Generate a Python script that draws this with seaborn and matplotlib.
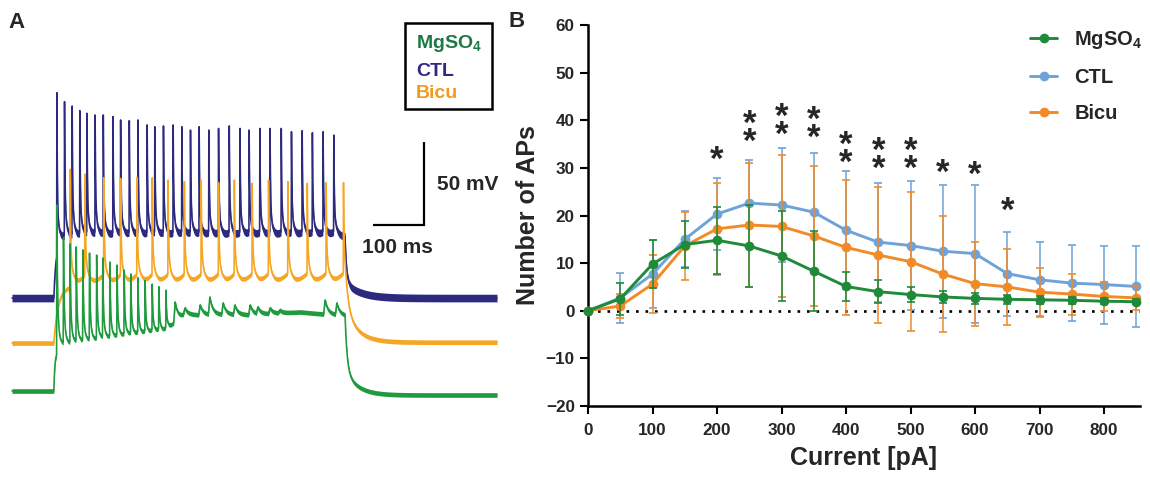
import numpy as np
import pandas as pd
import matplotlib
matplotlib.use("Agg")
import matplotlib.pyplot as plt
import matplotlib.transforms as mtransforms
from matplotlib.lines import Line2D
from matplotlib.patches import Rectangle
import seaborn as sns

sns.set_theme(style="white")
plt.rcParams["font.family"] = ["Liberation Sans", "DejaVu Sans"]
plt.rcParams["font.weight"] = "bold"
plt.rcParams["mathtext.fontset"] = "custom"
plt.rcParams["mathtext.rm"] = "Liberation Sans:bold"
plt.rcParams["mathtext.it"] = "Liberation Sans:bold"
plt.rcParams["mathtext.bf"] = "Liberation Sans:bold"

# ---------------- Panel B: number of APs per current step (mean, SD) ----------------
current_pa = [0, 50, 100, 150, 200, 250, 300, 350, 400, 450, 500, 550, 600, 650, 700, 750, 800, 850]
ctl_mean = [0, 2.7, 7.7, 15.0, 20.3, 22.6, 22.2, 20.7, 16.9, 14.4, 13.7, 12.5, 12.0, 7.8, 6.5, 5.8, 5.5, 5.1]
ctl_sd = [0, 5.2, 7.2, 5.9, 7.5, 9.1, 11.9, 12.5, 12.4, 12.5, 13.5, 14.0, 14.5, 8.8, 7.9, 8.0, 8.2, 8.6]
bicu_mean = [0, 1.0, 5.6, 13.6, 17.2, 18.0, 17.7, 15.7, 13.3, 11.7, 10.3, 7.7, 5.7, 5.0, 3.9, 3.5, 3.0, 2.7]
bicu_sd = [0, 2.5, 6.1, 7.2, 9.7, 13.0, 14.9, 14.6, 14.1, 14.2, 14.6, 12.1, 8.8, 8.0, 5.0, 4.3, 3.0, 2.6]
mg_mean = [0, 2.5, 9.8, 13.9, 14.8, 13.6, 11.5, 8.3, 5.1, 4.0, 3.4, 2.9, 2.6, 2.4, 2.3, 2.2, 2.0, 1.9]
mg_sd = [0, 3.3, 5.1, 4.9, 7.0, 8.6, 9.4, 8.4, 3.1, 2.4, 1.6, 1.3, 1.1, 0.9, 0.8, 0.7, 0.6, 0.5]

# significance marks: current step, level of the lowest star, label
sig_current = [200, 250, 300, 350, 400, 450, 500, 550, 600, 650]
sig_level = [33.6, 37.5, 38.9, 38.2, 33.0, 31.7, 31.7, 30.9, 30.5, 23.0]
sig_label = ["*", "**", "**", "**", "**", "**", "**", "*", "*", "*"]

series_names = ["MgSO$_\\mathbf{4}$", "CTL", "Bicu"]

# ---------------- Panel A: example voltage traces ----------------
# CTL
ctl_spike_ms = [88, 103, 118, 133, 147, 163, 179, 198, 213, 230, 247, 265, 280, 297, 316, 333,
                350, 367, 386, 405, 426, 447, 465, 486, 506, 528, 548, 569, 589, 610, 631]
ctl_peak_mv = [53.7, 48.3, 45.7, 42.9, 41.3, 40.3, 40.3, 39.3, 37.3, 36.9, 37.3, 34.3, 33.2, 33.7,
               34.3, 33.2, 31.2, 33.2, 31.2, 32.2, 33.7, 32.2, 31.2, 32.2, 32.2, 32.2, 30.2, 30.8,
               29.6, 30.2, 28.2]
ctl_plateau_ms = [82, 150, 653]
ctl_plateau_mv = [-37.0, -34.0, -33.0]
# Bicu
bicu_spike_ms = [114, 143, 180, 213, 245, 275, 306, 338, 371, 405, 436, 471, 503, 541, 579, 616, 650]
bicu_peak_mv = [34.7, 31.8, 29.6, 29.2, 29.8, 29.6, 28.2, 27.2, 28.2, 26.6, 28.2, 26.2, 28.2, 27.2,
                26.2, 26.6, 26.6]
bicu_plateau_ms = [82, 150, 653]
bicu_plateau_mv = [-37.0, -34.5, -33.5]
# MgSO4
mg_spike_ms = [88, 101, 114, 126, 139, 152, 166, 178, 192, 206, 220, 233, 247, 261, 275, 288, 302]
mg_peak_mv = [42.1, 22.2, 18.6, 16.8, 15.0, 13.1, 11.9, 10.1, 7.7, 5.9, 2.9, 0.5, -1.9, -3.7,
              -6.1, -7.9, -10.3]
mg_plateau_ms = [82, 88, 133, 212, 300, 320, 339, 467, 565, 653]
mg_plateau_mv = [-47.0, -46.5, -43.5, -39.3, -35.0, -28.4, -24.2, -24.2, -22.4, -24.8]
mg_bump_ms = [320, 339, 369, 388, 414, 437, 467, 482, 506, 525, 614, 637]
mg_bump_mv = [-16.4, -20.0, -18.2, -13.4, -17.0, -18.2, -18.2, -19.4, -20.0, -21.2, -15.2, -17.0]

REST_MV = -70.0
STIM_ON, STIM_OFF = 82.0, 653.0

C_CTL_TRACE = "#2b2a7e"
C_BICU_TRACE = "#f5a623"
C_MG_TRACE = "#1f9a3e"
C_MG = "#1e8a3a"
C_CTL = "#6fa3d8"
C_BICU = "#f28a28"


def add_events(v, t, times, peaks, rise, tau_fast, tau_slow, w_fast):
    for ts, pk in zip(times, peaks):
        i = np.searchsorted(t, ts)
        amp = pk - v[i]
        dt = t - ts
        k = np.zeros_like(t)
        up = (dt >= -rise) & (dt < 0)
        k[up] = (dt[up] + rise) / rise
        dn = dt >= 0
        k[dn] = w_fast * np.exp(-dt[dn] / tau_fast) + (1 - w_fast) * np.exp(-dt[dn] / tau_slow)
        v += amp * k


def membrane_trace(t, rest_post, plat_t, plat_v, tau_on, spikes_t, spikes_v, ramp, shape,
                   tau_off, w_off, extra=None):
    v = np.full(t.shape, REST_MV)
    on = (t >= STIM_ON) & (t < STIM_OFF)
    plat = np.interp(t, plat_t, plat_v)
    v[on] = REST_MV + (plat[on] - REST_MV) * (1 - np.exp(-(t[on] - STIM_ON) / tau_on))
    st = np.asarray(spikes_t, float)
    for a, b in zip(st[:-1], st[1:]):
        m = (t >= a) & (t < b)
        v[m] += ramp * ((t[m] - a) / (b - a)) ** 2
    add_events(v, t, spikes_t, spikes_v, *shape)
    if extra is not None:
        add_events(v, t, *extra)
    off = t >= STIM_OFF
    v_end = v[~off][-1]
    dt = t[off] - STIM_OFF
    decay = w_off * np.exp(-dt / tau_off[0]) + (1 - w_off) * np.exp(-dt / tau_off[1])
    v[off] = rest_post + (v_end - rest_post) * decay
    return v


t_ms = np.arange(0.0, 951.0, 0.05)
v_ctl = membrane_trace(t_ms, -70.0, ctl_plateau_ms, ctl_plateau_mv, 4.0, ctl_spike_ms, ctl_peak_mv,
                       3.0, (0.5, 1.0, 5.0, 0.75), (3.0, 30.0), 0.75)
v_bicu = membrane_trace(t_ms, -69.5, bicu_plateau_ms, bicu_plateau_mv, 8.0, bicu_spike_ms, bicu_peak_mv,
                        6.0, (0.5, 1.0, 6.0, 0.7), (6.0, 25.0), 0.6)
v_mg = membrane_trace(t_ms, -72.4, mg_plateau_ms, mg_plateau_mv, 2.0, mg_spike_ms, mg_peak_mv,
                      3.0, (0.6, 1.2, 5.0, 0.7), (4.0, 25.0), 0.7,
                      extra=(mg_bump_ms, mg_bump_mv, 3.0, 4.0, 10.0, 0.6))

# vertical stacking of the three example cells
traces = [(v_ctl, 179.6, C_CTL_TRACE, 2.3), (v_bicu, 152.5, C_BICU_TRACE, 1.4), (v_mg, 123.6, C_MG_TRACE, 1.4)]

W, H = 1150, 480
fig = plt.figure(figsize=(W / 100, H / 100), dpi=100)

axA = fig.add_axes([0, 0, 500 / W, 1])
axA.set_xlim(-12 / 0.51, 488 / 0.51)
axA.set_ylim(0, 480 / 1.66)
axA.axis("off")
for v, off, col, half in traces:
    y = v + off
    axA.fill_between(t_ms, y - half, y + half, color=col, lw=0)
    sns.lineplot(x=t_ms, y=y, ax=axA, color=col, lw=1.15, estimator=None, sort=False)

# scale bar: 100 ms, 50 mV
sb_x, sb_y = 808.0, 153.6
axA.plot([sb_x - 100, sb_x, sb_x], [sb_y, sb_y, sb_y + 50], color="black", lw=1.6,
         solid_joinstyle="miter", solid_capstyle="butt")
axA.text(834, 174.7, "50 mV", fontsize=15, fontweight="bold", ha="left", va="baseline")
axA.text(755, 136.7, "100 ms", fontsize=15, fontweight="bold", ha="center", va="baseline")

# boxed colour key
axA.add_patch(Rectangle((770.6, 223.5), 170.6, 51.8, fill=False, ec="black", lw=1.8))
axA.text(792, 260.1, "MgSO$_\\mathbf{4}$", color="#1a7a45", fontsize=14, fontweight="bold", va="baseline")
axA.text(792, 243.4, "CTL", color="#2e2a80", fontsize=14, fontweight="bold", va="baseline")
axA.text(792, 230.1, "Bicu", color="#f39a1e", fontsize=14, fontweight="bold", va="baseline")

fig.text(8 / W, 1 - 28 / H, "A", fontsize=16, fontweight="bold", va="baseline")
fig.text(509 / W, 1 - 27 / H, "B", fontsize=16, fontweight="bold", va="baseline")

# ---------------- Panel B ----------------
axB = fig.add_axes([588 / W, (H - 406) / H, 551.5 / W, 381 / H])
axB.set_xlim(0, 855)
axB.set_ylim(-20, 60)

axB.plot([0, 855], [0, 0], color="black", lw=1.9, ls=(0, (1, 2.6)), zorder=1)

groups = [("CTL", ctl_mean, ctl_sd, C_CTL, 2), ("Bicu", bicu_mean, bicu_sd, C_BICU, 3),
          ("MgSO4", mg_mean, mg_sd, C_MG, 4)]
for name, mean, sd, col, z in groups:
    axB.errorbar(current_pa, mean, yerr=sd, fmt="none", ecolor=col, elinewidth=1.1,
                 capsize=3.2, capthick=1.2, zorder=z)
    sns.lineplot(x=current_pa, y=mean, ax=axB, color=col, lw=2.1, marker="o", markersize=7,
                 markeredgewidth=0, zorder=z + 0.5, clip_on=False)

# stars: the baseline of the lowest star is shifted so that star is centred on its level
STAR_FS = 25
star_tr = mtransforms.offset_copy(axB.transData, fig=fig, y=-0.56 * STAR_FS, units="points")
for xc, yc, lab in zip(sig_current, sig_level, sig_label):
    axB.text(xc, yc, "\n".join(lab), fontsize=STAR_FS, fontweight="bold", ha="center",
             va="baseline", linespacing=0.43, transform=star_tr)

sns.despine(ax=axB)
for s in ("left", "bottom"):
    axB.spines[s].set_linewidth(1.8)
    axB.spines[s].set_color("black")
axB.set_xticks(range(0, 801, 100))
axB.set_yticks(range(-20, 61, 10))
axB.tick_params(axis="both", which="major", direction="out", length=6, width=1.5, color="black",
                labelsize=12.3, bottom=True, left=True)
axB.tick_params(axis="x", pad=6)
axB.tick_params(axis="y", pad=3.5)
for lab in axB.get_xticklabels() + axB.get_yticklabels():
    lab.set_fontweight("bold")
axB.set_xlabel("Current [pA]", fontsize=18, fontweight="bold", labelpad=6)
axB.set_ylabel("Number of APs", fontsize=18, fontweight="bold", labelpad=4)

handles = [Line2D([0], [0], color=c, lw=2.1, marker="o", markersize=7, markeredgewidth=0)
           for c in (C_MG, C_CTL, C_BICU)]
axB.legend(handles, series_names, loc="upper left", bbox_to_anchor=(1030 / W, 1 - 29 / H),
           bbox_transform=fig.transFigure, frameon=False, handlelength=1.35, handletextpad=0.85,
           labelspacing=0.85, borderaxespad=0, borderpad=0,
           prop={"weight": "bold", "size": 14.5})

fig.savefig("out.png", dpi=100, facecolor="white")
